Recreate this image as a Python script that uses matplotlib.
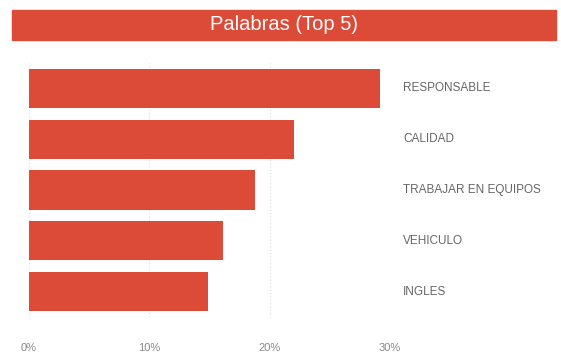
import matplotlib
matplotlib.use('Agg')
import matplotlib.pyplot as plt
from matplotlib.patches import Rectangle

# Top five words, share of mentions (%)
words = ['RESPONSABLE', 'CALIDAD', 'TRABAJAR EN EQUIPOS', 'VEHICULO', 'INGLES']
shares = [29.2, 22.0, 18.8, 16.1, 14.9]
tick_values = [0, 10, 20, 30]
tick_labels = ['0%', '10%', '20%', '30%']

kRed = '#DC4A38'
kFont = 'Liberation Sans'

W, H = 561, 354
fig = plt.figure(figsize=(W / 100, H / 100), dpi=100)

# Title banner
fig.patches.append(Rectangle((12 / W, 1 - 40 / H), (556 - 12) / W, 30 / H,
                             transform=fig.transFigure, color=kRed, zorder=0))
fig.text(284 / W, 1 - 25 / H, 'Palabras (Top 5)', color='white', fontsize=14.5,
         family=kFont, ha='center', va='center')

# Plot area in pixel terms: x 29..390 (0..30%), y 63..317
ax = fig.add_axes([29 / W, 1 - 317 / H, (390 - 29) / W, (317 - 63) / H])
pos = list(range(len(words)))
ax.barh(pos, shares, height=0.77, color=kRed, zorder=2)
ax.set_xlim(0, 30)
ax.set_ylim(len(words) - 0.5, -0.5)

ax.set_xticks(tick_values)
ax.set_xticklabels(tick_labels, family=kFont, fontsize=8, color='#888888')
ax.tick_params(axis='x', length=0, pad=19)
ax.set_yticks([])
for s in ax.spines.values():
    s.set_visible(False)
ax.grid(axis='x', color='#d8d8d8', linestyle=(0, (1, 2)), linewidth=0.8, zorder=0)

for p, w in zip(pos, words):
    ax.text(31.1, p, w, family=kFont, fontsize=8.5, color='#666666',
            ha='left', va='center', clip_on=False)

fig.savefig('out.png', dpi=100)
